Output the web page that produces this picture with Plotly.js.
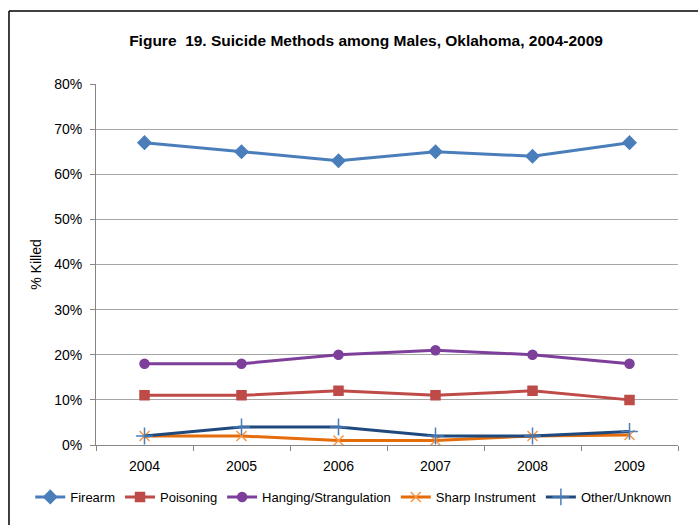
<!DOCTYPE html>
<html><head><meta charset="utf-8">
<script src="https://cdn.plot.ly/plotly-3.0.1.min.js"></script>
<style>html,body{margin:0;padding:0;background:#fff}#chart{width:698px;height:525px}</style>
</head><body><div id="chart"></div>
<script>
const years = ['2004','2005','2006','2007','2008','2009'];
const firearm = [67, 65, 63, 65, 64, 67];
const poisoning = [11, 11, 12, 11, 12, 10];
const hanging = [18, 18, 20, 21, 20, 18];
const sharp = [2, 2, 1, 1, 2, 2.2];
const other = [2, 4, 4, 2, 2, 3];
const yTicks = [0,10,20,30,40,50,60,70,80];
const yTickText = yTicks.map(v => v + '%');

const FONT = '"Liberation Sans", Arial, sans-serif';

function tr(name, y, color, lineColor, symbol, size) {
  return {x: years, y: y, name: name, type: 'scatter', mode: 'lines+markers',
    line: {color: lineColor, width: 3},
    marker: {symbol: symbol, size: size, color: color, line: {color: color, width: 1.5}}};
}
const data = [
  tr('Firearm', firearm, '#4a7ebb', '#4a7ebb', 'diamond', 10),
  tr('Poisoning', poisoning, '#be4b48', '#be4b48', 'square', 9),
  tr('Hanging/Strangulation', hanging, '#7d3f9a', '#7d3f9a', 'circle', 9),
  tr('Sharp Instrument', sharp, '#f79646', '#e46c0a', 'x-thin', 10),
  tr('Other/Unknown', other, '#4a7ebb', '#1f497d', 'cross-thin', 12)
];
const layout = {
  width: 698, height: 525,
  margin: {l: 96, r: 20, t: 84, b: 80},
  paper_bgcolor: '#fff', plot_bgcolor: '#fff',
  font: {family: FONT, size: 14, color: '#000'},
  title: {text: '<b>Figure  19. Suicide Methods among Males, Oklahoma, 2004-2009</b>', xref: 'paper', x: 0.464, xanchor: 'center', yref: 'container', y: 0.922, yanchor: 'middle', font: {family: FONT, size: 15.5, color: '#000'}},
  xaxis: {type: 'category', range: [-0.5, 5.5], showgrid: false, showline: true, linecolor: '#868686', linewidth: 1,
    ticks: 'outside', tickson: 'boundaries', ticklen: 5, tickcolor: '#868686', tickfont: {size: 14}, zeroline: false,
    ticklabelstandoff: 8, automargin: false},
  yaxis: {range: [0, 80], tickvals: yTicks, ticktext: yTickText, showgrid: true, gridcolor: '#a6a6a6', gridwidth: 1,
    showline: true, linecolor: '#868686', ticks: 'outside', ticklen: 5, tickcolor: '#868686', tickfont: {size: 14}, zeroline: false,
    ticklabelstandoff: 5, automargin: false,
    title: {text: '% Killed', font: {size: 14}, standoff: 9}},
  legend: {orientation: 'h', x: -0.113, xanchor: 'left', y: -0.144, yanchor: 'middle', font: {size: 13}, itemwidth: 30, tracegroupgap: 0, bgcolor: 'rgba(0,0,0,0)'},
  showlegend: true,
  shapes: [
    {type: 'line', xref: 'paper', yref: 'paper', x0: -0.1495, x1: -0.1495, y0: 1.2022, y1: -0.3, line: {color: '#000', width: 1.5}},
    {type: 'line', xref: 'paper', yref: 'paper', x0: -0.1495, x1: 1.1, y0: 1.2022, y1: 1.2022, line: {color: '#000', width: 1.5}}
  ]
};
Plotly.newPlot('chart', data, layout, {staticPlot: true, displayModeBar: false});
</script></body></html>
